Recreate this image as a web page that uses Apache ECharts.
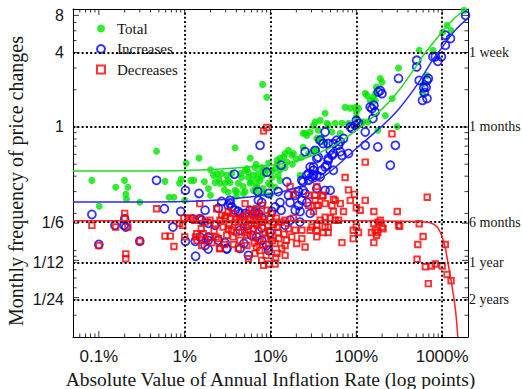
<!DOCTYPE html>
<html><head><meta charset="utf-8">
<script src="https://cdn.jsdelivr.net/npm/echarts@6/dist/echarts.min.js"></script>
<style>html,body{margin:0;padding:0;background:#fff}#c{width:522px;height:389px}</style>
</head><body><div id="c"></div>
<script>
// ---- data: [inflation %, monthly frequency] ----
const totalPts = [[0.083,0.37],[0.101,0.228],[0.157,0.325],[0.199,0.37],[0.218,0.325],[0.206,0.285],[0.21,0.26],[0.30,0.246],[0.47,0.636],[0.59,0.363],[0.66,0.27],[0.75,0.27],[0.87,0.35],[0.91,0.377],[1.0,0.255],[1.04,0.51],[1.18,0.37],[1.28,0.37],[1.47,0.56],[3.87,0.68],[2.36,0.42],[2.70,0.42],[3.09,0.406],[3.53,0.42],[4.62,0.39],[5.06,0.446],[5.53,0.39],[6.31,0.406],[7.22,0.42],[2.26,0.355],[2.58,0.35],[2.95,0.35],[3.38,0.355],[4.22,0.35],[5.78,0.35],[6.88,0.337],[1.89,0.318],[3.22,0.296],[3.87,0.307],[4.83,0.29],[6.31,0.307],[7.22,0.29],[8.1,2.21],[9.05,1.74],[25.3,0.89],[26.5,0.855],[34.6,0.81],[16.2,0.647],[17.7,0.59],[14.2,0.57],[11.9,0.537],[9.5,0.51],[7.9,0.47],[11.3,0.46],[14.8,0.47],[7.56,0.37],[8.65,0.42],[10.4,0.39],[12.3,0.406],[9.5,0.35],[6.88,0.325],[8.2,0.318],[11.3,0.325],[9.9,0.28],[27.8,0.61],[34.6,0.647],[310,3.0],[190,2.47],[199,2.3],[171,2.1],[168,1.87],[127,1.87],[156,1.74],[145,1.64],[43.3,1.29],[74,1.44],[85,1.42],[97,1.44],[37.9,1.13],[33.1,1.1],[45.5,1.07],[56.7,1.07],[68,1.07],[81,1.07],[100,1.2],[120,1.1],[137,1.1],[178,0.94],[262,1.7],[218,1.24],[24,0.89],[29,0.91],[36,0.94],[52,0.91],[65,0.89],[23,0.57],[31.7,0.647],[22.1,0.406],[1800,8.8],[1140,6.66],[1260,6.06],[1010,5.8],[780,4.17],[540,4.17],[665,2.61],[610,2.25],[300,1.01],[115,1.07],[47,1.03],[31.7,1.03],[39.6,0.82],[43.3,0.75],[14.8,0.61],[18.5,0.61],[12.9,0.56],[24,0.685],[36,0.78],[8.3,0.446],[12.9,0.37],[133,1.8],[166,1.64],[106,1.42],[100,1.32],[590,1.9],[6.61,0.47],[2.0,0.28],[4.0,0.275],[8.5,0.29],[2.16,0.406],[5.3,0.46],[4.03,0.3],[5.06,0.3],[2.5,0.38],[3.2,0.37],[4.5,0.42],[5.5,0.43],[6.0,0.36],[7.0,0.38],[8.0,0.4],[9.0,0.45],[10.5,0.44],[12,0.5],[13,0.45],[15.5,0.52],[18,0.5],[20,0.55],[10,0.34],[4.8,0.33],[2.9,0.31],[1.7,0.36],[2.0,0.45],[6.8,0.5],[5.8,0.56]];

const incPts = [[0.083,0.196],[0.154,0.16],[0.2,0.18],[0.206,0.155],[0.197,0.16],[0.1,0.112],[0.3,0.119],[0.47,0.37],[0.58,0.218],[0.73,0.155],[0.9,0.207],[1.02,0.307],[1.02,0.119],[1.33,0.119],[1.34,0.09],[1.47,0.29],[1.25,0.18],[1.5,0.18],[1.88,0.121],[1.88,0.103],[3.09,0.103],[3.53,0.225],[3.38,0.24],[4.42,0.2],[3.8,0.415],[3.38,0.255],[7.1,0.3],[7.56,0.71],[3.22,0.232],[3.87,0.212],[4.22,0.207],[5.06,0.2],[5.78,0.212],[6.61,0.207],[7.22,0.2],[1.73,0.212],[1.58,0.176],[1.89,0.166],[2.26,0.16],[2.47,0.121],[1.51,0.129],[1.89,0.129],[1.73,0.11],[2.95,0.116],[3.09,0.104],[4.42,0.104],[5.53,0.0915],[25.3,0.63],[34.6,0.555],[29,0.474],[31.7,0.446],[27.8,0.42],[34.6,0.406],[9.05,0.43],[15.5,0.36],[21.2,0.3],[25.3,0.29],[19.4,0.28],[16.2,0.28],[9.5,0.29],[12.3,0.3],[12.9,0.245],[16.9,0.245],[23.2,0.255],[26.5,0.245],[21.2,0.232],[19.4,0.212],[22.1,0.207],[11.3,0.225],[10.4,0.207],[13.3,0.212],[7.22,0.255],[7.9,0.245],[6.61,0.2],[7.9,0.185],[6.88,0.129],[7.9,0.121],[9.05,0.11],[9.5,0.1],[190,1.97],[199,1.86],[180,1.92],[145,1.45],[152,1.41],[160,1.5],[166,1.32],[156,1.17],[127,0.91],[100,1.13],[106,1.07],[97,1.03],[89,0.97],[43.3,0.91],[37.9,0.78],[41,0.734],[71,0.806],[59,0.78],[54,0.734],[62,0.71],[33.1,0.647],[49.6,0.647],[54,0.61],[65,0.63],[68,0.59],[36,0.57],[47,0.537],[45.5,0.49],[43.3,0.474],[31.7,0.474],[26.5,0.406],[31.7,0.406],[39.6,0.446],[54,0.446],[23.2,0.37],[24,0.307],[34.6,0.318],[43.3,0.307],[49.6,0.307],[127,0.71],[178,0.69],[249,0.49],[1870,8.0],[1090,5.52],[1250,5.2],[1090,4.58],[980,3.7],[834,3.7],[780,3.7],[505,3.46],[505,3.06],[690,2.47],[665,2.38],[540,2.38],[610,2.08],[590,1.64],[665,1.7],[310,2.47],[85,1.0],[65,0.76],[47,0.734],[81,0.61],[52,0.59],[47,0.555],[30,0.394],[37.9,0.394],[27.8,0.37],[24,0.36],[13.3,0.49],[285,0.71],[890,3.4],[650,2.1],[620,1.9],[4.42,0.146],[5.45,0.16],[6.0,0.133],[4.9,0.114],[7.9,0.152],[9.9,0.14],[14.8,0.16],[16.9,0.176],[22,0.17],[29,0.2],[2.47,0.22],[2.7,0.25]];

const decPts = [[0.083,0.16],[0.2,0.2],[0.2,0.183],[0.157,0.155],[0.218,0.155],[0.1,0.11],[0.30,0.119],[0.206,0.094],[0.206,0.086],[0.47,0.218],[0.59,0.131],[0.68,0.131],[0.75,0.108],[1.0,0.129],[0.98,0.183],[1.09,0.183],[1.19,0.183],[0.87,0.166],[0.95,0.16],[1.34,0.129],[1.39,0.121],[1.56,0.15],[1.5,0.24],[1.73,0.121],[2.07,0.116],[2.32,0.129],[2.54,0.104],[2.36,0.218],[2.7,0.193],[3.22,0.207],[5.06,0.24],[6.03,0.212],[6.88,0.218],[1.32,0.176],[1.51,0.183],[1.73,0.17],[1.97,0.176],[2.26,0.166],[2.58,0.176],[2.95,0.183],[3.38,0.183],[3.87,0.17],[4.42,0.186],[5.06,0.17],[5.78,0.176],[6.61,0.176],[7.22,0.186],[2.8,0.155],[3.22,0.15],[3.53,0.146],[4.22,0.155],[4.83,0.155],[5.53,0.146],[6.31,0.15],[7.22,0.146],[1.38,0.137],[1.65,0.137],[1.97,0.129],[2.47,0.125],[3.09,0.133],[3.68,0.129],[4.42,0.121],[5.3,0.133],[6.31,0.129],[7.22,0.121],[1.58,0.11],[2.58,0.104],[4.22,0.104],[5.3,0.11],[6.88,0.107],[5.53,0.086],[7.98,0.232],[9.1,0.212],[10.3,0.2],[11.7,0.183],[13.3,0.17],[8.0,0.17],[9.3,0.157],[10.8,0.163],[8.6,0.14],[10,0.131],[12.3,0.14],[14.4,0.136],[8.2,0.112],[9.6,0.104],[11.3,0.114],[8.9,0.0915],[7.9,0.0833],[7.3,0.197],[9.9,0.183],[16.9,0.33],[34.6,0.33],[27.8,0.28],[33.1,0.255],[27.8,0.232],[34.6,0.232],[18.5,0.183],[14.8,0.176],[16.2,0.15],[19.4,0.146],[23.2,0.146],[29,0.146],[34.6,0.146],[17.7,0.129],[23.2,0.125],[20.2,0.114],[25.3,0.107],[11.9,0.095],[14.8,0.0915],[11.3,0.078],[8.3,0.0759],[14.8,0.11],[33.1,0.28],[41,0.28],[36,0.232],[43.3,0.24],[52,0.232],[56.7,0.255],[65,0.24],[85,0.255],[100,0.222],[111,0.212],[127,0.255],[160,0.207],[300,0.207],[31.7,0.207],[54,0.207],[71,0.207],[43.3,0.186],[49.6,0.183],[56.7,0.176],[62,0.176],[37.9,0.176],[34.6,0.16],[30.4,0.155],[43.3,0.155],[47,0.155],[41,0.14],[47,0.14],[34.6,0.129],[68,0.116],[92,0.146],[106,0.14],[100,0.155],[92,0.125],[160,0.166],[180,0.17],[190,0.176],[199,0.155],[150,0.14],[166,0.146],[178,0.14],[172,0.133],[160,0.116],[205,0.15],[310,0.16],[18.5,0.285],[15.3,0.121],[13.5,0.104],[260,0.88],[127,0.52],[74,0.39],[40,0.275],[81,0.31],[95,0.285],[54,0.26],[670,0.27],[8.3,0.93],[9.05,0.99],[320,0.157],[540,0.165],[600,0.13],[520,0.112],[510,0.085],[637,0.074],[750,0.075],[830,0.078],[1000,0.075],[1090,0.112],[1140,0.064],[1270,0.057],[690,0.054],[3.0,0.19],[3.6,0.2],[4.0,0.178],[4.8,0.19],[5.5,0.2],[6.3,0.19],[7.5,0.17],[8.5,0.18],[11,0.17],[12,0.155],[9.5,0.145],[7.0,0.16],[6.0,0.165],[5.0,0.14],[4.0,0.14],[3.3,0.16],[2.2,0.145],[8.8,0.125],[10.5,0.12],[6.5,0.115],[7.5,0.1],[12.5,0.125],[11.5,0.088],[9.5,0.078],[6.6,0.095],[3.7,0.112],[2.9,0.112]];

// fitted curves
const totalFit = [[0.05,0.44],[1,0.445],[10,0.49],[22,0.54],[50,0.68],[100,0.94],[200,1.4],[300,1.9],[450,2.8],[640,4.0],[1000,5.9],[1400,7.6],[1900,9.0]];
const incFit = [[0.05,0.247],[1,0.25],[10,0.285],[22,0.33],[40,0.39],[100,0.67],[200,1.02],[300,1.35],[500,2.15],[800,3.6],[1000,4.4],[1400,6.0],[2000,7.6]];
const decFit = [[0.05,0.174],[100,0.174],[400,0.173],[600,0.171],[730,0.168],[875,0.155],[1000,0.129],[1090,0.104],[1190,0.074],[1305,0.051],[1430,0.033],[1520,0.02]];

// ticks and labels
const xTickValues = [0.1,1,10,100,1000];
const xTickLabels = ['0.1%','1%','10%','100%','1000%'];
const xGridValues = [1,10,100,1000];
const xMinorTicks = [0.06,0.07,0.08,0.09,0.2,0.3,0.4,0.5,0.6,0.7,0.8,0.9,2,3,4,5,6,7,8,9,20,30,40,50,60,70,80,90,200,300,400,500,600,700,800,900];
const yTickValues = [8,4,1,1/6,1/12,1/24];
const yTickLabels = ['8','4','1','1/6','1/12','1/24'];
const yGridValues = [4,1,1/6,1/12,1/24];
const rightLabels = ['1 week','1 months','6 months','1 year','2 years'];
const yMinorTicks = [0.03,0.04,0.05,0.06,0.07,0.08,0.09,0.1,0.2,0.3,0.4,0.5,0.6,0.7,0.8,0.9,2,3,5,6,7];

const X_MIN = 0.05, X_MAX = 2000, Y_MIN = 0.02, Y_MAX = 9;
const serif = 'Liberation Serif', sans = 'Liberation Sans', ink = '#161616';
const clear = 'rgba(0,0,0,0)';

const chart = echarts.init(document.getElementById('c'), null, {renderer: 'svg', width: 522, height: 389});

function tickSeries(data, size, offset) {
  return {type: 'scatter', silent: true, clip: false, z: 6, symbol: 'rect', symbolSize: size,
    symbolOffset: offset, itemStyle: {color: '#000'}, data: data, animation: false};
}

const gridLines = [];
xGridValues.forEach(v => gridLines.push({xAxis: v}));
yGridValues.forEach(v => gridLines.push({yAxis: v}));
const labelLines = [];
yTickValues.forEach((v, i) => labelLines.push({yAxis: v,
  label: {show: true, position: 'start', formatter: yTickLabels[i], distance: 9,
    fontFamily: sans, fontSize: 16, color: ink}}));
yGridValues.forEach((v, i) => labelLines.push({yAxis: v,
  label: {show: true, position: 'end', formatter: rightLabels[i], distance: 1,
    fontFamily: serif, fontSize: 14, color: ink}}));

function xFmt(v) {
  for (let i = 0; i < xTickValues.length; i++) {
    if (Math.abs(Math.log10(v) - Math.log10(xTickValues[i])) < 1e-6) return xTickLabels[i];
  }
  return '';
}

const axisLineStyle = {show: true, onZero: false, lineStyle: {color: '#000', width: 1}};

const option = {
  animation: false,
  backgroundColor: '#fff',
  grid: {left: 73, right: 54, top: 9, bottom: 52, containLabel: false, outerBoundsMode: 'none'},
  legend: {
    orient: 'vertical', left: 91, top: 16, itemWidth: 8, itemHeight: 8, itemGap: 5.5,
    selectedMode: false, data: ['Total', 'Increases', 'Decreases'],
    textStyle: {fontFamily: serif, fontSize: 15, color: ink, padding: [0, 0, 0, 7]}
  },
  xAxis: [
    {type: 'log', logBase: 10, min: X_MIN, max: X_MAX, position: 'bottom',
      axisLine: axisLineStyle, axisTick: {show: false}, splitLine: {show: false}, minorTick: {show: false},
      axisLabel: {formatter: xFmt, fontFamily: sans, fontSize: 17, color: ink, margin: 11},
      name: 'Absolute Value of Annual Inflation Rate (log points)', nameLocation: 'middle', nameGap: 30,
      nameTextStyle: {fontFamily: serif, fontSize: 19.5, color: ink}},
    {type: 'log', logBase: 10, min: X_MIN, max: X_MAX, position: 'top',
      axisLine: axisLineStyle, axisTick: {show: false}, splitLine: {show: false}, axisLabel: {show: false}}
  ],
  yAxis: [
    {type: 'log', logBase: 2, min: Y_MIN, max: Y_MAX, position: 'left',
      axisLine: axisLineStyle, axisTick: {show: false}, splitLine: {show: false}, axisLabel: {show: false},
      name: 'Monthly frequency of price changes', nameLocation: 'middle', nameGap: 47,
      nameTextStyle: {fontFamily: serif, fontSize: 20, color: ink, padding: [0, 16, 0, 0]}},
    {type: 'log', logBase: 2, min: Y_MIN, max: Y_MAX, position: 'right',
      axisLine: axisLineStyle, axisTick: {show: false}, splitLine: {show: false}, axisLabel: {show: false}}
  ],
  series: [
    {type: 'line', name: 'grid', data: [[1, 1]], symbol: 'none', showSymbol: false, lineStyle: {color: clear}, z: 1, silent: true,
      markLine: {silent: true, symbol: ['none', 'none'], animation: false,
        lineStyle: {color: '#000', type: [2, 2.3], width: 1.8}, label: {show: false}, data: gridLines}},
    {type: 'line', name: 'labels', data: [[1, 1]], symbol: 'none', showSymbol: false, lineStyle: {color: clear}, z: 1, silent: true,
      markLine: {silent: true, symbol: ['none', 'none'], animation: false,
        lineStyle: {color: clear, width: 0}, data: labelLines}},
    {type: 'scatter', name: 'Total', data: totalPts, symbol: 'circle', symbolSize: 7, z: 2,
      itemStyle: {color: '#00e600'}},
    {type: 'scatter', name: 'Increases', data: incPts, symbol: 'circle', symbolSize: 8, z: 3,
      itemStyle: {color: clear, borderColor: '#0000ff', borderWidth: 1.8}},
    {type: 'scatter', name: 'Decreases', data: decPts, symbol: 'rect', symbolSize: 5.5, z: 4,
      itemStyle: {color: clear, borderColor: '#ff0000', borderWidth: 1.9}},
    {type: 'line', name: 'fitTotal', data: totalFit, smooth: 0.35, symbol: 'none', z: 5,
      lineStyle: {color: '#22dd22', width: 1.5}},
    {type: 'line', name: 'fitInc', data: incFit, smooth: 0.35, symbol: 'none', z: 5,
      lineStyle: {color: '#2a2aff', width: 1.5}},
    {type: 'line', name: 'fitDec', data: decFit, smooth: 0.35, symbol: 'none', z: 5,
      lineStyle: {color: '#ff2020', width: 1.5}},
    tickSeries(yTickValues.map(v => [X_MIN, v]), [6, 1], [3, 0]),
    tickSeries(yMinorTicks.map(v => [X_MIN, v]), [3.5, 1], [1.75, 0]),
    tickSeries(yTickValues.map(v => [X_MAX, v]), [6, 1], [-3, 0]),
    tickSeries(yMinorTicks.map(v => [X_MAX, v]), [3.5, 1], [-1.75, 0]),
    tickSeries(xTickValues.map(v => [v, Y_MIN]), [1, 6], [0, -3]),
    tickSeries(xMinorTicks.map(v => [v, Y_MIN]), [1, 3.5], [0, -1.75]),
    tickSeries(xTickValues.map(v => [v, Y_MAX]), [1, 6], [0, 3]),
    tickSeries(xMinorTicks.map(v => [v, Y_MAX]), [1, 3.5], [0, 1.75])
  ]
};
chart.setOption(option);
</script>
</body></html>
